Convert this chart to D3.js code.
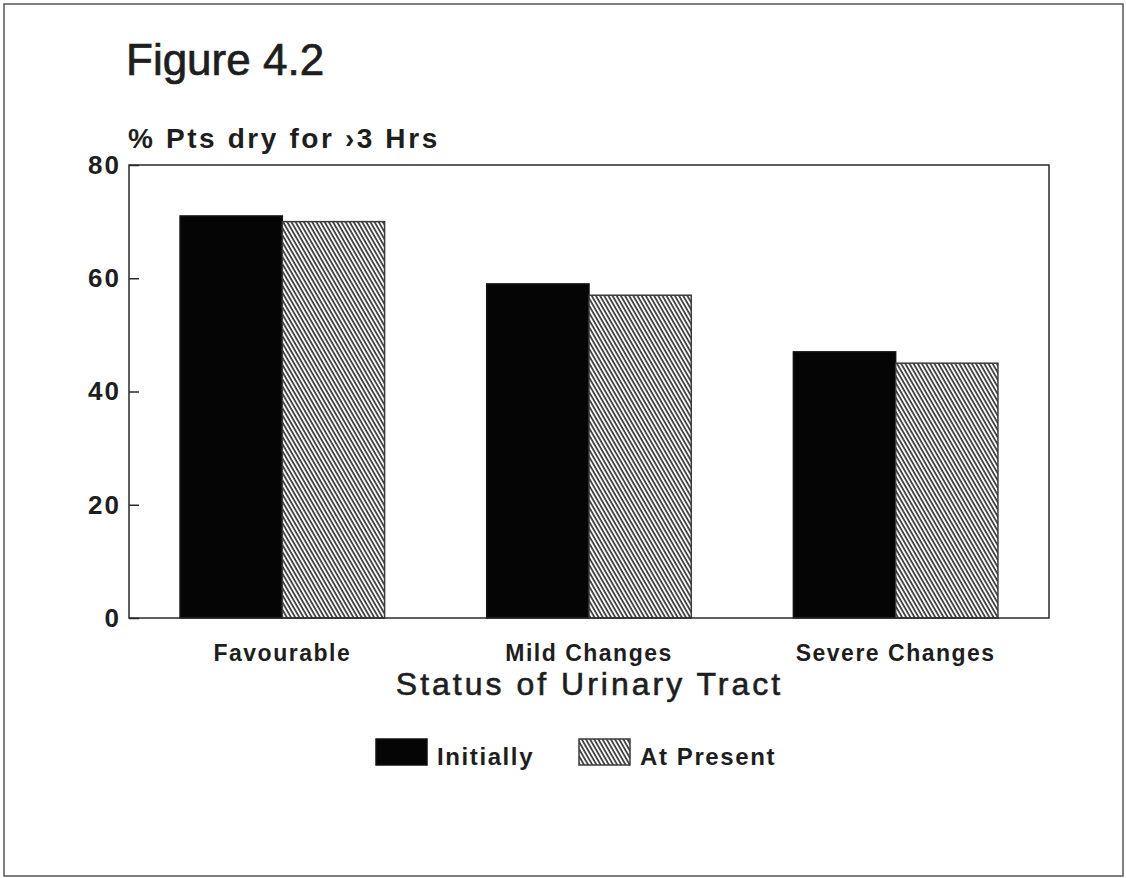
<!DOCTYPE html>
<html>
<head>
<meta charset="utf-8">
<script src="https://cdn.jsdelivr.net/npm/d3@7"></script>
<style>
  html, body { margin: 0; padding: 0; background: #ffffff; }
  svg { display: block; }
  text { font-family: "Liberation Sans", Arial, Helvetica, sans-serif; fill: #1e1e1e; }
</style>
</head>
<body>
<svg id="chart" width="1126" height="878"></svg>
<script>
// ---- data ----
const categories = ["Favourable", "Mild Changes", "Severe Changes"];
const seriesNames = ["Initially", "At Present"];
const initially = [71, 59, 47];
const atPresent = [70, 57, 45];
const yTicks = [0, 20, 40, 60, 80];
const titleText = "Figure 4.2";
const yTitleText = "% Pts dry for \u203A3 Hrs";
const xTitleText = "Status of Urinary Tract";

// ---- layout ----
const plot = { left: 129, right: 1049, top: 165, bottom: 618 };

const svg = d3.select("#chart");

// hatch pattern
const defs = svg.append("defs");
const pat = defs.append("pattern")
  .attr("id", "hatch")
  .attr("patternUnits", "userSpaceOnUse")
  .attr("width", 3.6).attr("height", 10)
  .attr("patternTransform", "rotate(-30)");
pat.append("rect").attr("width", 3.6).attr("height", 10).attr("fill", "#ffffff");
pat.append("line").attr("x1", 1).attr("y1", 0).attr("x2", 1).attr("y2", 10)
  .attr("stroke", "#333").attr("stroke-width", 1.7);

// outer frame
svg.append("rect")
  .attr("x", 4).attr("y", 4).attr("width", 1119).attr("height", 872)
  .attr("fill", "none").attr("stroke", "#555").attr("stroke-width", 1.5);

// scales
const x0 = d3.scaleBand().domain(categories)
  .range([plot.left, plot.right]).paddingInner(0.333).paddingOuter(0.1665);
const x1 = d3.scaleBand().domain(seriesNames).range([0, x0.bandwidth()]).padding(0);
const y = d3.scaleLinear().domain([0, 80]).range([plot.bottom, plot.top]);

const fills = { "Initially": "#050505", "At Present": "url(#hatch)" };
const strokes = { "Initially": "#111", "At Present": "#3c3c3c" };

// bars
const rows = categories.map((c, i) => ({ cat: c, vals: [
  { s: "Initially", v: initially[i] },
  { s: "At Present", v: atPresent[i] }
]}));

const g = svg.append("g");
rows.forEach(r => {
  g.selectAll(null).data(r.vals).enter().append("rect")
    .attr("x", d => x0(r.cat) + x1(d.s))
    .attr("y", d => y(d.v))
    .attr("width", x1.bandwidth())
    .attr("height", d => y(0) - y(d.v))
    .attr("fill", d => fills[d.s])
    .attr("stroke", d => strokes[d.s])
    .attr("stroke-width", 1.5);
});

// plot frame
svg.append("rect")
  .attr("x", plot.left).attr("y", plot.top)
  .attr("width", plot.right - plot.left).attr("height", plot.bottom - plot.top)
  .attr("fill", "none").attr("stroke", "#2a2a2a").attr("stroke-width", 1.5);

// y axis (ticks inward)
const yAxis = d3.axisLeft(y).tickValues(yTicks).tickSize(-10).tickPadding(8).tickFormat(d3.format("d"));
const ya = svg.append("g").attr("transform", `translate(${plot.left},0)`).call(yAxis);
ya.select(".domain").remove();
ya.selectAll(".tick line").attr("stroke", "#2a2a2a").attr("stroke-width", 1.5);
ya.selectAll(".tick text")
  .style("font-family", "'Liberation Sans', Arial, sans-serif")
  .style("font-size", "26px").style("font-weight", "bold")
  .style("letter-spacing", "2px")
  .attr("fill", "#1e1e1e");

// x axis labels
const xAxis = d3.axisBottom(x0).tickSize(0).tickPadding(27);
const xa = svg.append("g").attr("transform", `translate(0,${plot.bottom})`).call(xAxis);
xa.select(".domain").remove();
xa.selectAll(".tick text")
  .style("font-family", "'Liberation Sans', Arial, sans-serif")
  .style("font-size", "23px").style("font-weight", "bold")
  .style("letter-spacing", "1.5px")
  .attr("fill", "#1e1e1e");

// titles
svg.append("text").attr("x", 126).attr("y", 75)
  .style("font-size", "44px")
  .attr("stroke", "#1e1e1e").attr("stroke-width", 0.7).text(titleText);
svg.append("text").attr("x", 128).attr("y", 148)
  .style("font-size", "28px").style("font-weight", "bold")
  .style("letter-spacing", "2.6px").text(yTitleText);
svg.append("text").attr("x", (397 + 782) / 2).attr("y", 695)
  .attr("text-anchor", "middle")
  .attr("stroke", "#1e1e1e").attr("stroke-width", 0.6)
  .style("font-size", "32px").style("letter-spacing", "3px").text(xTitleText);

// legend
const legendItems = [
  { s: "Initially", x: 376 },
  { s: "At Present", x: 579 }
];
const lg = svg.append("g");
legendItems.forEach(it => {
  lg.append("rect").attr("x", it.x).attr("y", 739).attr("width", 51).attr("height", 26)
    .attr("fill", fills[it.s]).attr("stroke", strokes[it.s]).attr("stroke-width", 1.5);
  lg.append("text").attr("x", it.x + 61).attr("y", 765)
    .style("font-size", "24px").style("font-weight", "bold")
    .style("letter-spacing", "1.6px").text(it.s);
});
</script>
</body>
</html>
